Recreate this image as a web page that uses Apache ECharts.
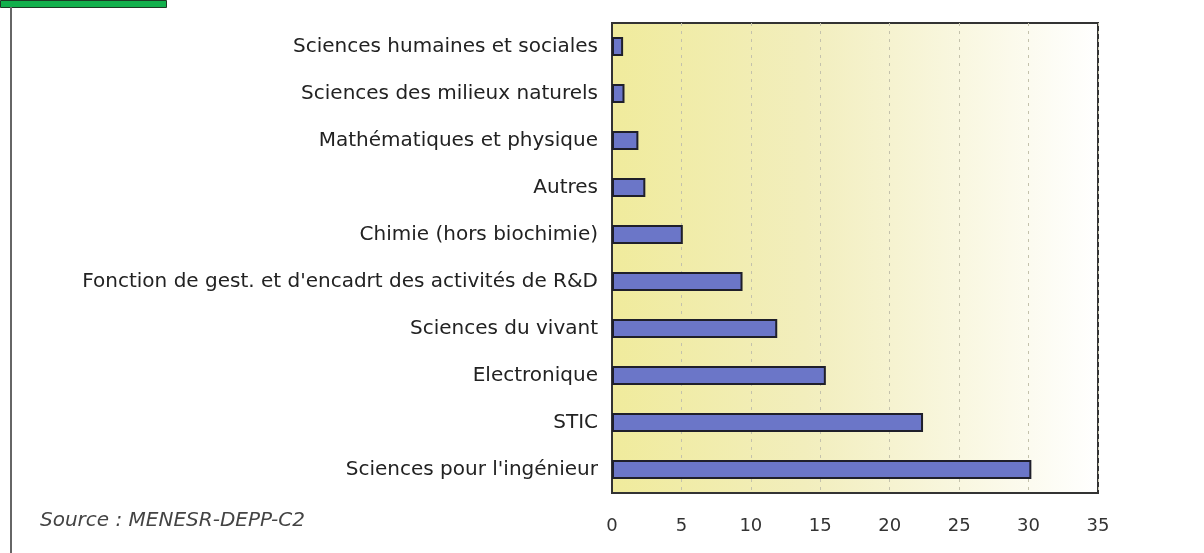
<!DOCTYPE html>
<html>
<head>
<meta charset="utf-8">
<script src="https://cdn.jsdelivr.net/npm/echarts@6/dist/echarts.min.js"></script>
<style>
  html, body { margin: 0; padding: 0; background: #fff; }
  #chart { width: 1204px; height: 553px; }
</style>
</head>
<body>
<div id="chart"></div>
<script>
// categories from top to bottom
const categories = [
  'Sciences humaines et sociales',
  'Sciences des milieux naturels',
  'Mathématiques et physique',
  'Autres',
  'Chimie (hors biochimie)',
  "Fonction de gest. et d'encadrt des activités de R&D",
  'Sciences du vivant',
  'Electronique',
  'STIC',
  "Sciences pour l'ingénieur"
]
const shares = [0.8, 0.9, 1.9, 2.4, 5.1, 9.4, 11.9, 15.4, 22.4, 30.2]
const xTicks = [0, 5, 10, 15, 20, 25, 30, 35]
const sourceText = 'Source : MENESR-DEPP-C2'

const chart = echarts.init(document.getElementById('chart'))

const option = {
  animation: false,
  backgroundColor: '#ffffff',
  textStyle: { fontFamily: 'DejaVu Sans, sans-serif' },
  grid: {
    left: 612,
    right: 106,
    top: 23,
    bottom: 60,
    show: true,
    borderColor: '#333',
    borderWidth: 2,
    backgroundColor: new echarts.graphic.LinearGradient(0, 0, 1, 0, [
      { offset: 0, color: '#f0eb9c' },
      { offset: 0.4, color: '#f2eebd' },
      { offset: 1, color: '#ffffff' }
    ])
  },
  xAxis: {
    type: 'value',
    min: xTicks[0],
    max: xTicks[xTicks.length - 1],
    interval: 5,
    axisLine: { show: false },
    axisTick: { show: false },
    axisLabel: {
      color: '#333',
      fontSize: 18,
      margin: 24
    },
    splitLine: {
      show: true,
      lineStyle: { color: '#c4c2ac', type: [3, 5], width: 1 }
    }
  },
  yAxis: {
    type: 'category',
    inverse: true,
    data: categories,
    axisLine: { show: true, lineStyle: { color: '#333', width: 2 } },
    axisTick: { show: false },
    axisLabel: {
      color: '#222',
      fontSize: 20,
      margin: 14
    }
  },
  series: [{
    type: 'bar',
    data: shares,
    barWidth: 19,
    itemStyle: {
      color: '#6b76c8',
      borderColor: '#1f1f2a',
      borderWidth: 2
    }
  }],
  graphic: [
    {
      type: 'rect',
      left: 0,
      top: 0,
      shape: { width: 166, height: 7 },
      style: { fill: '#12b04c', stroke: '#1d3a25', lineWidth: 1 }
    },
    {
      type: 'line',
      shape: { x1: 11, y1: 7, x2: 11, y2: 553 },
      style: { stroke: '#666', lineWidth: 2 }
    },
    {
      type: 'text',
      left: 40,
      top: 511,
      style: {
        text: sourceText,
        fill: '#444',
        font: 'italic 20px "DejaVu Sans", sans-serif'
      }
    }
  ]
}

chart.setOption(option)
</script>
</body>
</html>
